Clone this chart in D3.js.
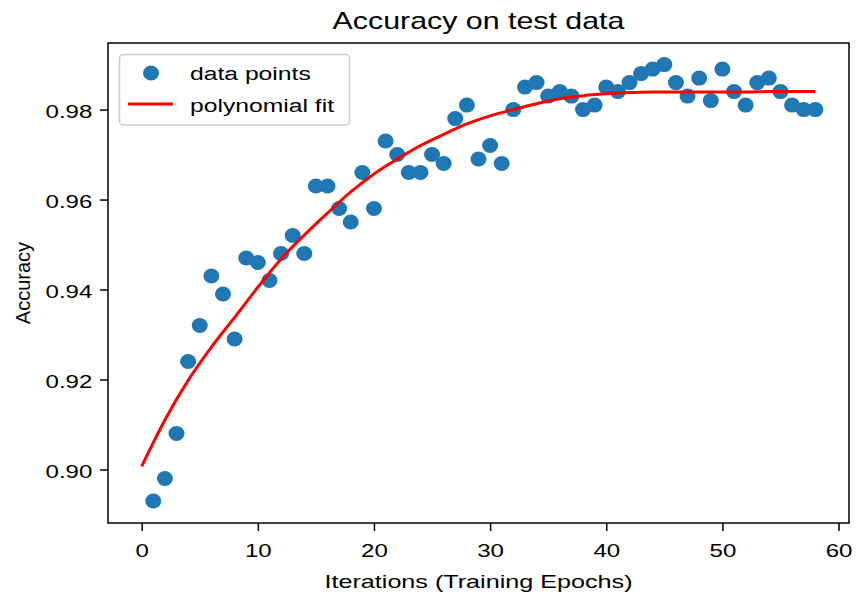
<!DOCTYPE html>
<html>
<head>
<meta charset="utf-8">
<script src="https://cdn.jsdelivr.net/npm/d3@7"></script>
<style>
    body { margin: 0; background: #fff; }
    svg text { font-family: "Liberation Sans", Arial, sans-serif; fill: #000; }
</style>
</head>
<body>
<script>
// epochs 1..58 and accuracy
var epochs = d3.range(1, 59);
var accuracy = [
    0.893, 0.898, 0.908, 0.924, 0.932, 0.943, 0.939, 0.929, 0.947, 0.946,
    0.942, 0.948, 0.952, 0.948, 0.963, 0.963, 0.958, 0.955, 0.966, 0.958,
    0.973, 0.970, 0.966, 0.966, 0.970, 0.968, 0.978, 0.981, 0.969, 0.972,
    0.968, 0.980, 0.985, 0.986, 0.983, 0.984, 0.983, 0.980, 0.981, 0.985,
    0.984, 0.986, 0.988, 0.989, 0.990, 0.986, 0.983, 0.987, 0.982, 0.989,
    0.984, 0.981, 0.986, 0.987, 0.984, 0.981, 0.980, 0.980
];

// polynomial fit, sampled every 2 epochs
var fitX = [0, 2, 4, 6, 8, 10, 12, 14, 16, 18, 20, 22, 24, 26, 28,
            30, 32, 34, 36, 38, 40, 42, 44, 46, 48, 50, 52, 54, 56, 58];
var fitY = [0.9007, 0.9110, 0.9198, 0.9272, 0.9338, 0.9405, 0.9468, 0.9521,
            0.9570, 0.9617, 0.9657, 0.9690, 0.9720, 0.9745, 0.9768, 0.9786,
            0.9800, 0.9813, 0.9824, 0.9831, 0.9835, 0.9838, 0.9839, 0.9839,
            0.9839, 0.9839, 0.9839, 0.9840, 0.9840, 0.9840];

var xTicks = [0, 10, 20, 30, 40, 50, 60];
var yTicks = [0.90, 0.92, 0.94, 0.96, 0.98];

var seriesNames = ['data points', 'polynomial fit'];

var width = 858, height = 594;
var plot = {left: 108, right: 849, top: 43, bottom: 523};
var stretch = 1.3; // the picture is wider than tall, text looks pulled sideways
var dotColor = "#1f77b4";

var svg = d3.select("body").append("svg")
    .attr("width", width)
    .attr("height", height);

var x = d3.scaleLinear()
    .domain([-2.9, 60.9])
    .range([plot.left, plot.right]);

var y = d3.scaleLinear()
    .domain([0.8881, 0.9948])
    .range([plot.bottom, plot.top]);

// points
svg.append("g")
    .attr("class", "dots")
    .selectAll("ellipse")
    .data(epochs)
    .enter().append("ellipse")
    .attr("cx", function(d) { return x(d); })
    .attr("cy", function(d, i) { return y(accuracy[i]); })
    .attr("rx", 8)
    .attr("ry", 7.5)
    .attr("fill", dotColor);

// fit line
var line = d3.line()
    .x(function(d) { return x(d); })
    .y(function(d, i) { return y(fitY[i]); })
    .curve(d3.curveMonotoneX);

svg.append("path")
    .datum(fitX)
    .attr("d", line)
    .attr("fill", "none")
    .attr("stroke", "#ff0000")
    .attr("stroke-width", 3);

// axes
var xAxis = d3.axisBottom(x)
    .tickValues(xTicks)
    .tickSize(8)
    .tickSizeOuter(0)
    .tickPadding(5)
    .tickFormat(d3.format("d"));

var yAxis = d3.axisLeft(y)
    .tickValues(yTicks)
    .tickSize(8)
    .tickSizeOuter(0)
    .tickFormat(d3.format(".2f"));

var gx = svg.append("g")
    .attr("class", "x axis")
    .attr("transform", "translate(0," + plot.bottom + ")")
    .call(xAxis);
gx.select(".domain").remove();
gx.selectAll("line").attr("stroke", "#000").attr("stroke-width", 1.5);
gx.selectAll("text")
    .attr("font-size", "18.5px")
    .attr("font-family", null)
    .attr("dy", null)
    .attr("y", 33.7)
    .attr("transform", "scale(" + stretch + ",1)");

var gy = svg.append("g")
    .attr("class", "y axis")
    .attr("transform", "translate(" + plot.left + ",0)")
    .call(yAxis);
gy.select(".domain").remove();
gy.selectAll("line").attr("stroke", "#000").attr("stroke-width", 1.5);
gy.selectAll("text")
    .attr("font-size", "18.5px")
    .attr("font-family", null)
    .attr("x", -15.7 / stretch)
    .attr("dy", "0.42em")
    .attr("transform", "scale(" + stretch + ",1)");

// frame
svg.append("rect")
    .attr("x", plot.left)
    .attr("y", plot.top)
    .attr("width", plot.right - plot.left)
    .attr("height", plot.bottom - plot.top)
    .attr("fill", "none")
    .attr("stroke", "#000")
    .attr("stroke-width", 1.5);

// stretched text helper
function label(txt, cx, cy, size, anchor, sx) {
    return svg.append("text")
        .attr("transform", "translate(" + cx + "," + cy + ") scale(" + sx + ",1)")
        .attr("text-anchor", anchor)
        .style("font-size", size + "px")
        .text(txt);
}

//title
label("Accuracy on test data", (plot.left + plot.right) / 2, 29, 23, "middle", 1.32);
//xlab
label("Iterations (Training Epochs)", (plot.left + plot.right) / 2, 587.5, 18.5, "middle", 1.36);
//ylab
svg.append("text")
    .attr("transform", "translate(30," + ((plot.top + plot.bottom) / 2) + ") rotate(-90)")
    .attr("text-anchor", "middle")
    .style("font-size", "20px")
    .text("Accuracy");

// legend
var legend = svg.append("g").attr("class", "legend");
legend.append("rect")
    .attr("x", 119.5)
    .attr("y", 54.5)
    .attr("width", 230)
    .attr("height", 70.5)
    .attr("rx", 4)
    .attr("fill", "#fff")
    .attr("fill-opacity", 0.8)
    .attr("stroke", "#cccccc")
    .attr("stroke-width", 1.5);
legend.append("ellipse")
    .attr("cx", 151)
    .attr("cy", 73)
    .attr("rx", 8)
    .attr("ry", 7.5)
    .attr("fill", dotColor);
legend.append("line")
    .attr("x1", 128)
    .attr("x2", 173)
    .attr("y1", 104)
    .attr("y2", 104)
    .attr("stroke", "#ff0000")
    .attr("stroke-width", 3);
seriesNames.forEach(function(name, i) {
    label(name, 190, 80 + i * 31.5, 19, "start", 1.3);
});
</script>
</body>
</html>
